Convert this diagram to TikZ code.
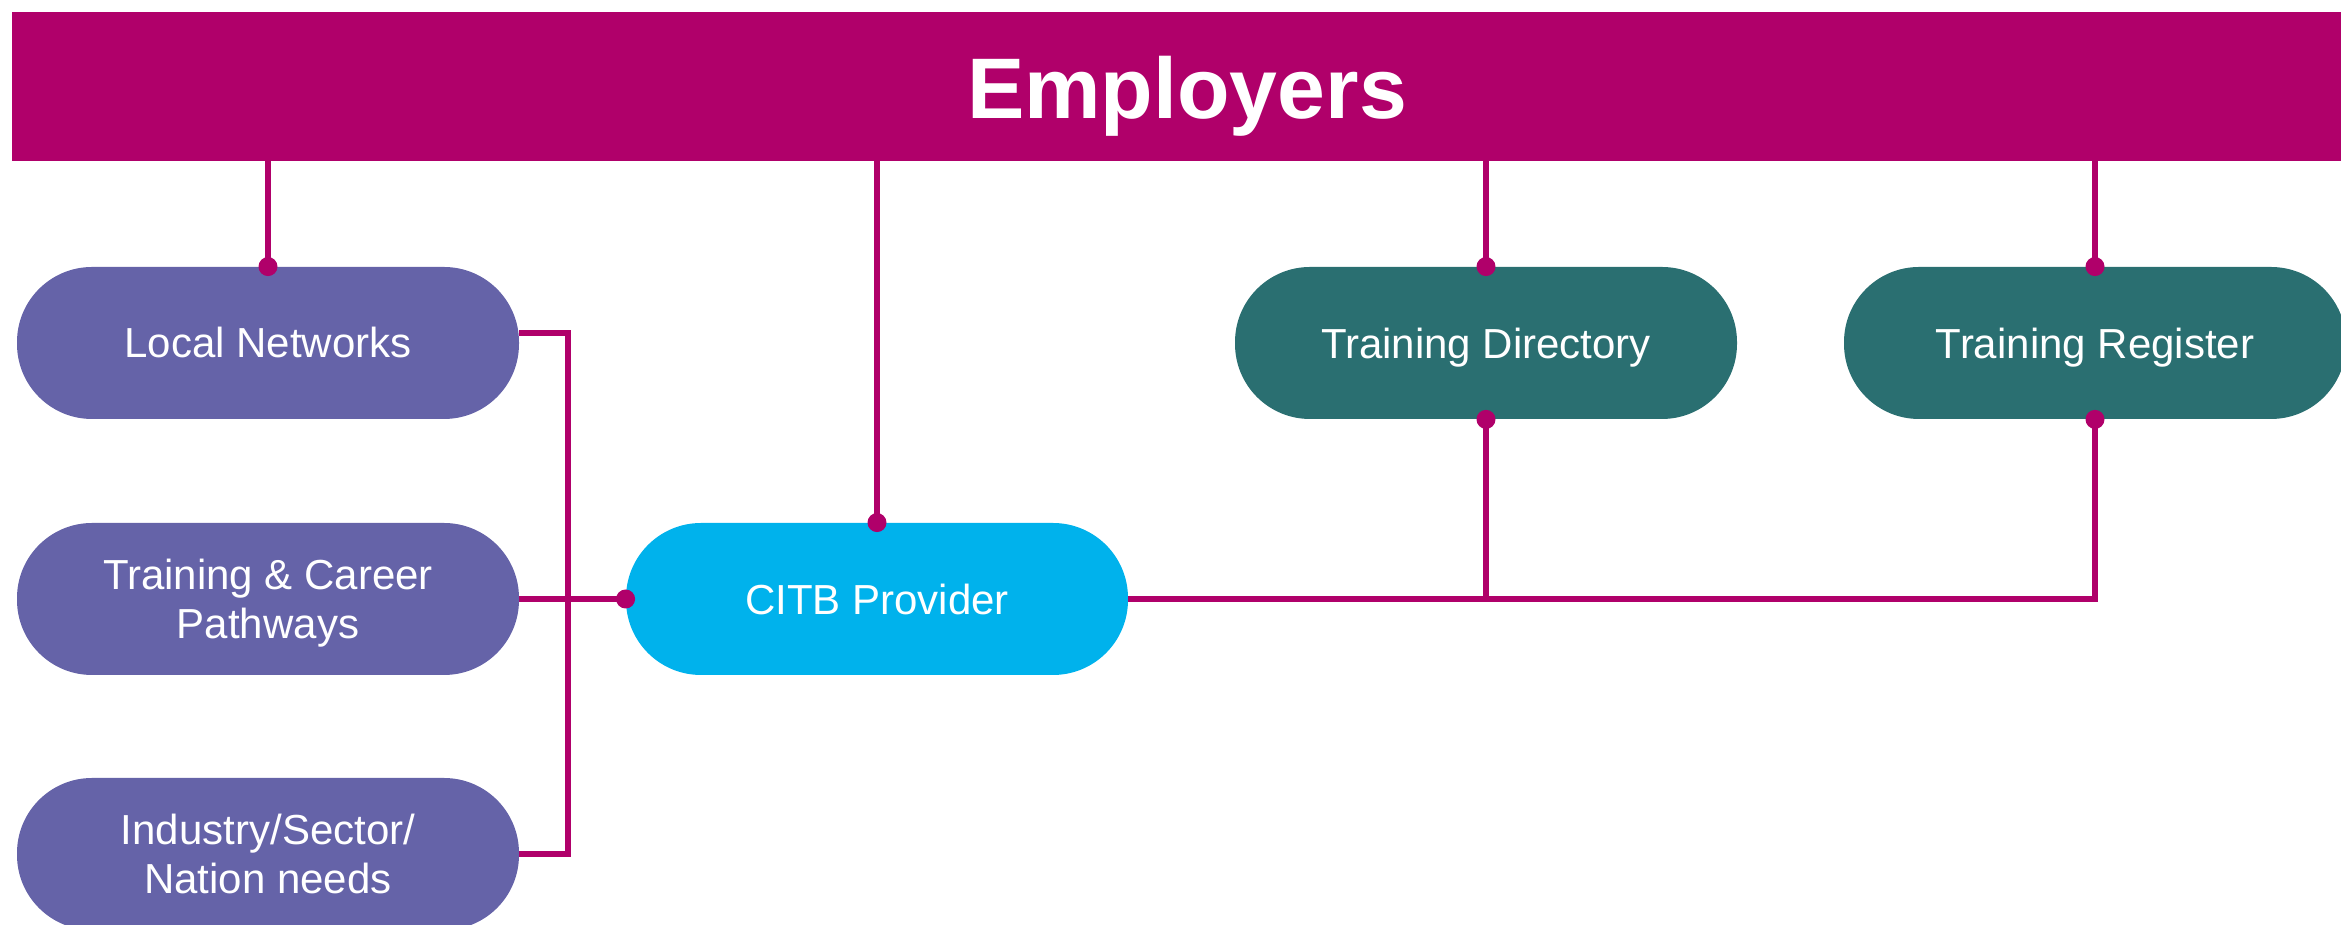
\documentclass[tikz,border=0pt]{standalone}
\usepackage{fontspec}
\setmainfont{Liberation Sans}
\usetikzlibrary{positioning,calc}
\definecolor{employerBar}{RGB}{176,0,106}
\definecolor{inputPill}{RGB}{101,99,168}
\definecolor{providerPill}{RGB}{0,178,236}
\definecolor{recordPill}{RGB}{42,111,113}
\tikzset{
    % Magenta header bar across the top
    banner/.style={
        fill=employerBar,
        minimum width=1164.5pt,
        minimum height=74.5pt,
        inner sep=0pt
    },
    banner title/.style={
        font=\bfseries\fontsize{43}{46}\selectfont,
        text=white,
        text depth=0pt
    },
    % Rounded boxes
    pill/.style={
        rounded corners=37.5pt,
        minimum width=251pt,
        minimum height=76pt,
        inner sep=0pt,
        align=center,
        text=white,
        font=\fontsize{21}{24.5}\selectfont
    },
    input pill/.style={pill, fill=inputPill},
    provider pill/.style={pill, fill=providerPill},
    record pill/.style={pill, fill=recordPill, text depth=0pt},
    % Connector lines and end dots
    link/.style={
        draw=employerBar,
        line width=3pt
    },
    joint dot/.style={
        fill=employerBar
    }
}

\begin{document}
\begin{tikzpicture}[x=0.5pt,y=0.5pt]

% Canvas size
\path[use as bounding box] (0,0) rectangle (2341,925);

% Header
\node[banner] (employers) at (1176.5,838.5) {};
\node[banner title] (title) at (1187,838) {Employers};

% Left column
\node[input pill] (local) at (268,582) {Local Networks};
\node[input pill, text depth=0pt] (career) at (268,326) {Training \& Career\\Pathways};
\node[input pill] (industry) at (268,71) {Industry/Sector/\\Nation needs};

% Provider and records
\node[provider pill] (citb) at (877,326) {CITB Provider};
\node[record pill] (directory) at (1486,582) {Training Directory};
\node[record pill] (register) at (2095,582) {Training Register};

% Drops from the header
\draw[link] (employers.south -| local.north) -- (local.north);
\draw[link] (employers.south -| citb.north) -- (citb.north);
\draw[link] (employers.south -| directory.north) -- (directory.north);
\draw[link] (employers.south -| register.north) -- (register.north);

% Left bracket into the provider
\coordinate (bracket) at (567.5,326);
\draw[link] ([yshift=4.75pt]local.east) -| (bracket) |- (industry.east);
\draw[link] (career.east) -- (citb.west);

% Provider out to the records
\draw[link] (citb.east) -| (register.south);
\draw[link] (directory.south) -- (directory.south |- citb.east);

% Joint dots
\foreach \anchor in {local.north,directory.north,register.north,citb.north,
                     citb.west,directory.south,register.south}
    \fill[joint dot] (\anchor) circle[radius=4.75pt];

\end{tikzpicture}
\end{document}
